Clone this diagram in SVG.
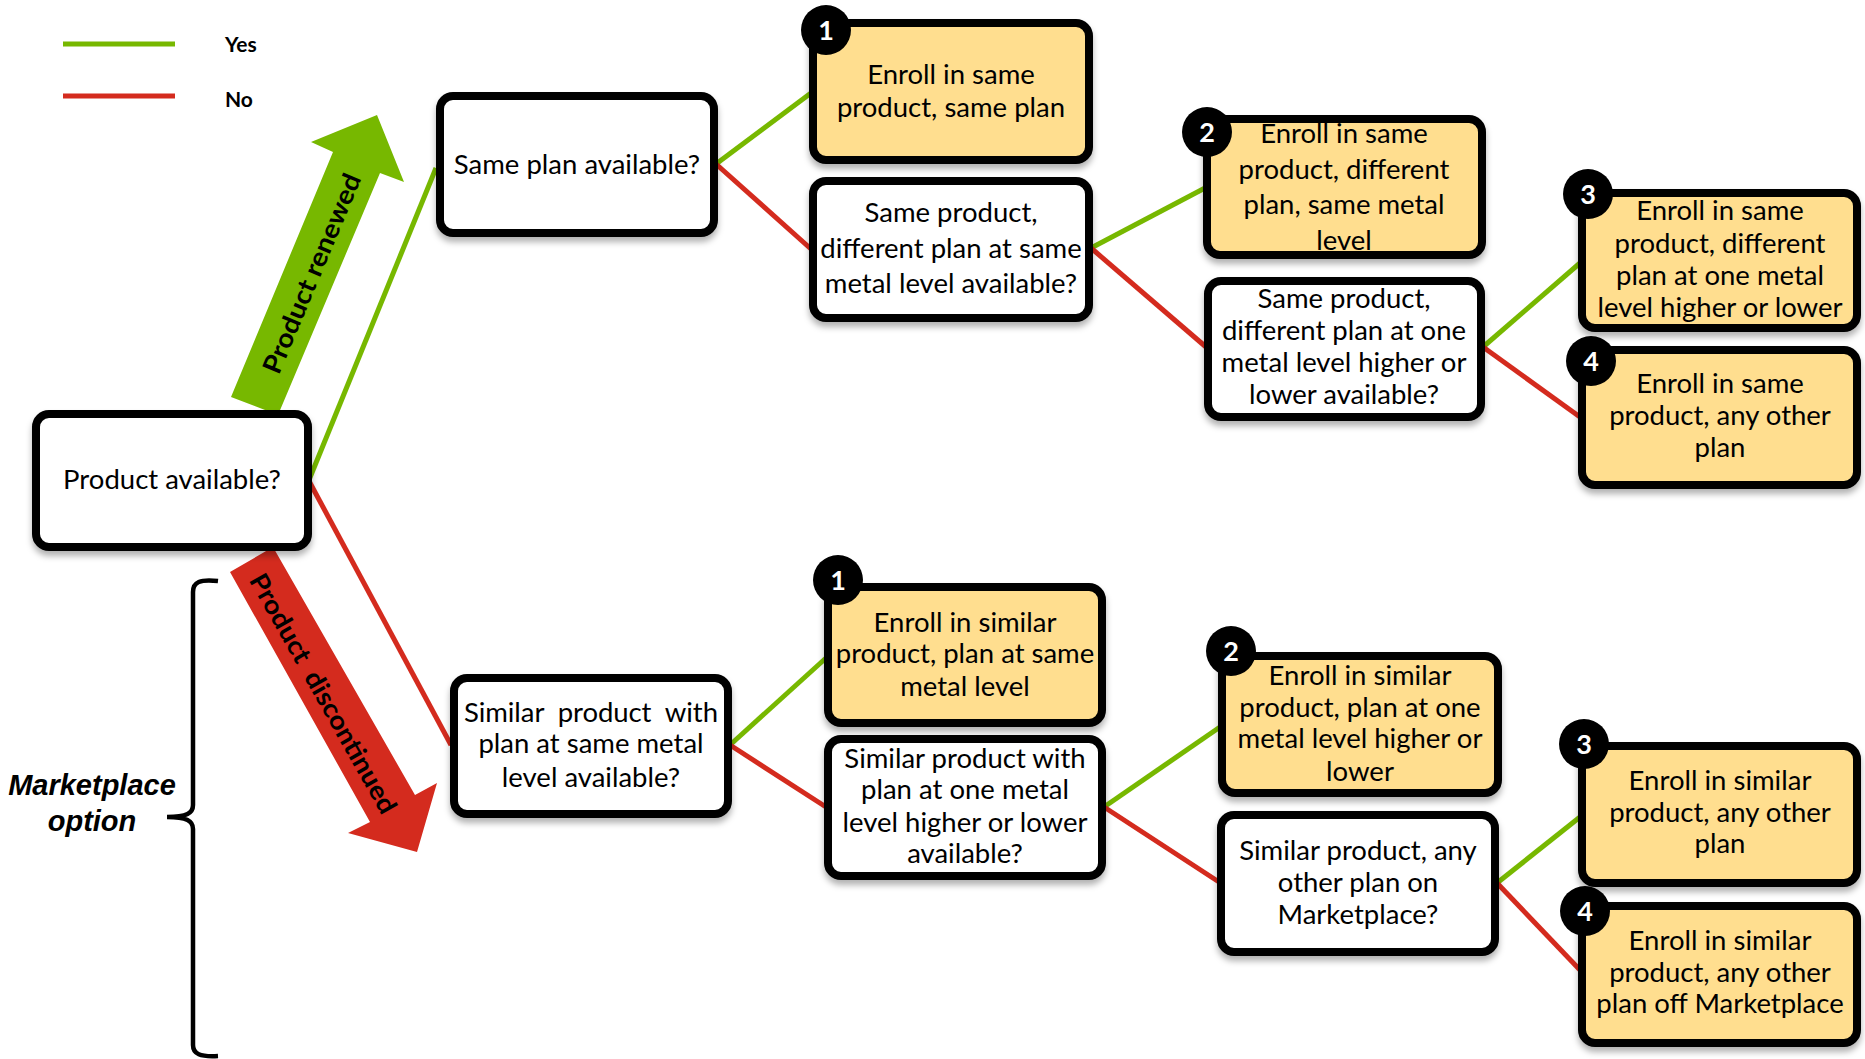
<svg xmlns="http://www.w3.org/2000/svg" width="1865" height="1059" viewBox="0 0 1865 1059">
<style>
.box{stroke:#000;stroke-width:8;}
.q{fill:#fff;}
.a{fill:#FFDE8F;}
.t{font-family:Lato,"Open Sans","Liberation Sans",sans-serif;font-size:27.5px;fill:#000;text-anchor:middle;}
.bd{fill:#000;}
.bn{font-family:Lato,"Liberation Sans",sans-serif;font-weight:bold;font-size:27px;fill:#fff;text-anchor:middle;}
.g{stroke:#77B800;stroke-width:5;fill:none;}
.r{stroke:#D42B1E;stroke-width:5;fill:none;}
.lg{font-family:Lato,"Liberation Sans",sans-serif;font-weight:bold;font-size:21px;fill:#000;}
.mk{font-family:"Liberation Sans",Arial,sans-serif;font-weight:bold;font-style:italic;font-size:29px;fill:#000;text-anchor:middle;}
.arr{font-family:Lato,"Liberation Sans",sans-serif;font-weight:bold;font-size:26px;fill:#000;text-anchor:middle;dominant-baseline:central;}
</style>
<defs>
<filter id="sh" x="-10%" y="-10%" width="120%" height="130%">
<feDropShadow dx="0" dy="5" stdDeviation="3" flood-color="#000" flood-opacity="0.3"/>
</filter>
</defs>
<rect width="1865" height="1059" fill="#fff"/>

<g id="legend">
<line x1="63" y1="44" x2="175" y2="44" class="g"/>
<line x1="63" y1="96" x2="175" y2="96" class="r"/>
<text x="225" y="52" class="lg">Yes</text>
<text x="225" y="107" class="lg">No</text>
</g>

<g id="marketplace-option">
<path d="M218,581 C200,579 193,582 193,592 L193,805 C193,813 187,817 167,817 C187,817 193,821 193,829 L193,1045 C193,1054 200,1057 218,1056" fill="none" stroke="#000" stroke-width="4.5"/>
<text x="92" y="795" class="mk">Marketplace</text>
<text x="92" y="831" class="mk">option</text>
</g>

<g id="arrow-renewed">
<polygon points="231,397 333,152 311,142 377,115 404,182 380,173 278,415" fill="#77B800"/>
<text class="arr" transform="translate(311 273) rotate(-67.2)" textLength="214" lengthAdjust="spacingAndGlyphs">Product renewed</text>
</g>
<g id="arrow-discontinued">
<polygon points="230,572 370,822 348,833 417,852 437,783 415,795 273,547" fill="#D42B1E"/>
<text class="arr" xml:space="preserve" transform="translate(324 693) rotate(60.5)" textLength="271" lengthAdjust="spacingAndGlyphs">Product  discontinued</text>
</g>

<g id="connectors">
<line x1="309" y1="480" x2="436" y2="168" class="g"/>
<line x1="309" y1="481" x2="451" y2="745" class="r"/>
<line x1="716" y1="164" x2="811" y2="93" class="g"/>
<line x1="716" y1="164" x2="811" y2="249" class="r"/>
<line x1="1091" y1="248" x2="1205" y2="188" class="g"/>
<line x1="1091" y1="248" x2="1206" y2="347" class="r"/>
<line x1="1483" y1="347" x2="1580" y2="263" class="g"/>
<line x1="1483" y1="347" x2="1580" y2="417" class="r"/>
<line x1="730" y1="745" x2="826" y2="658" class="g"/>
<line x1="730" y1="745" x2="826" y2="807" class="r"/>
<line x1="1104" y1="807" x2="1220" y2="727" class="g"/>
<line x1="1104" y1="807" x2="1219" y2="882" class="r"/>
<line x1="1497" y1="883" x2="1580" y2="817" class="g"/>
<line x1="1497" y1="883" x2="1580" y2="970" class="r"/>
</g>

<g id="n-product-available">
<rect x="36" y="414" width="272" height="133" rx="13" class="box q" filter="url(#sh)"/>
<text x="172" y="489" class="t">Product available?</text>
</g>

<g id="n-same-plan">
<rect x="440" y="96" width="274" height="137" rx="13" class="box q" filter="url(#sh)"/>
<text x="577" y="174" class="t">Same plan available?</text>
</g>

<g id="n-enroll-same-plan">
<rect x="813" y="23" width="276" height="137" rx="13" class="box a" filter="url(#sh)"/>
<text x="951" y="84" class="t">Enroll in same</text>
<text x="951" y="117" class="t">product, same plan</text>
<circle cx="826" cy="30" r="25" class="bd"/>
<text x="826" y="40" class="bn">1</text>
</g>

<g id="n-same-metal">
<rect x="813" y="181" width="276" height="137" rx="13" class="box q" filter="url(#sh)"/>
<text x="951" y="222" class="t">Same product,</text>
<text x="951" y="258" class="t">different plan at same</text>
<text x="951" y="293" class="t">metal level available?</text>
</g>

<g id="n-enroll-same-metal">
<rect x="1207" y="119" width="275" height="136" rx="13" class="box a" filter="url(#sh)"/>
<text x="1344" y="143" class="t">Enroll in same</text>
<text x="1344" y="179" class="t">product, different</text>
<text x="1344" y="214" class="t">plan, same metal</text>
<text x="1344" y="250" class="t">level</text>
<circle cx="1207" cy="132" r="25" class="bd"/>
<text x="1207" y="142" class="bn">2</text>
</g>

<g id="n-one-level">
<rect x="1208" y="281" width="273" height="136" rx="13" class="box q" filter="url(#sh)"/>
<text x="1344" y="308" class="t">Same product,</text>
<text x="1344" y="340" class="t">different plan at one</text>
<text x="1344" y="372" class="t">metal level higher or</text>
<text x="1344" y="404" class="t">lower available?</text>
</g>

<g id="n-enroll-one-level">
<rect x="1582" y="193" width="275" height="135" rx="13" class="box a" filter="url(#sh)"/>
<text x="1720" y="220" class="t">Enroll in same</text>
<text x="1720" y="253" class="t">product, different</text>
<text x="1720" y="285" class="t">plan at one metal</text>
<text x="1720" y="317" class="t">level higher or lower</text>
<circle cx="1588" cy="194" r="25" class="bd"/>
<text x="1588" y="204" class="bn">3</text>
</g>

<g id="n-enroll-any-plan">
<rect x="1582" y="350" width="275" height="135" rx="13" class="box a" filter="url(#sh)"/>
<text x="1720" y="393" class="t">Enroll in same</text>
<text x="1720" y="425" class="t">product, any other</text>
<text x="1720" y="457" class="t">plan</text>
<circle cx="1591" cy="361" r="25" class="bd"/>
<text x="1591" y="371" class="bn">4</text>
</g>

<g id="n-similar-same-metal">
<rect x="454" y="678" width="274" height="136" rx="13" class="box q" filter="url(#sh)"/>
<text x="591" y="722" class="t" textLength="254" lengthAdjust="spacing" xml:space="preserve">Similar  product  with</text>
<text x="591" y="753" class="t">plan at same metal</text>
<text x="591" y="787" class="t">level available?</text>
</g>

<g id="n-enroll-similar-same-metal">
<rect x="828" y="587" width="274" height="136" rx="13" class="box a" filter="url(#sh)"/>
<text x="965" y="632" class="t">Enroll in similar</text>
<text x="965" y="663" class="t">product, plan at same</text>
<text x="965" y="696" class="t">metal level</text>
<circle cx="838" cy="580" r="25" class="bd"/>
<text x="838" y="590" class="bn">1</text>
</g>

<g id="n-similar-one-level">
<rect x="828" y="739" width="274" height="137" rx="13" class="box q" filter="url(#sh)"/>
<text x="965" y="768" class="t">Similar product with</text>
<text x="965" y="799" class="t">plan at one metal</text>
<text x="965" y="832" class="t">level higher or lower</text>
<text x="965" y="863" class="t">available?</text>
</g>

<g id="n-enroll-similar-one-level">
<rect x="1222" y="656" width="276" height="137" rx="13" class="box a" filter="url(#sh)"/>
<text x="1360" y="685" class="t">Enroll in similar</text>
<text x="1360" y="717" class="t">product, plan at one</text>
<text x="1360" y="748" class="t">metal level higher or</text>
<text x="1360" y="781" class="t">lower</text>
<circle cx="1231" cy="651" r="25" class="bd"/>
<text x="1231" y="661" class="bn">2</text>
</g>

<g id="n-similar-any-on">
<rect x="1221" y="815" width="274" height="137" rx="13" class="box q" filter="url(#sh)"/>
<text x="1358" y="860" class="t">Similar product, any</text>
<text x="1358" y="892" class="t">other plan on</text>
<text x="1358" y="924" class="t">Marketplace?</text>
</g>

<g id="n-enroll-similar-any">
<rect x="1582" y="746" width="275" height="137" rx="13" class="box a" filter="url(#sh)"/>
<text x="1720" y="790" class="t">Enroll in similar</text>
<text x="1720" y="822" class="t">product, any other</text>
<text x="1720" y="853" class="t">plan</text>
<circle cx="1584" cy="744" r="25" class="bd"/>
<text x="1584" y="754" class="bn">3</text>
</g>

<g id="n-enroll-similar-off">
<rect x="1582" y="906" width="275" height="137" rx="13" class="box a" filter="url(#sh)"/>
<text x="1720" y="950" class="t">Enroll in similar</text>
<text x="1720" y="982" class="t">product, any other</text>
<text x="1720" y="1013" class="t">plan off Marketplace</text>
<circle cx="1585" cy="911" r="25" class="bd"/>
<text x="1585" y="921" class="bn">4</text>
</g>
</svg>
